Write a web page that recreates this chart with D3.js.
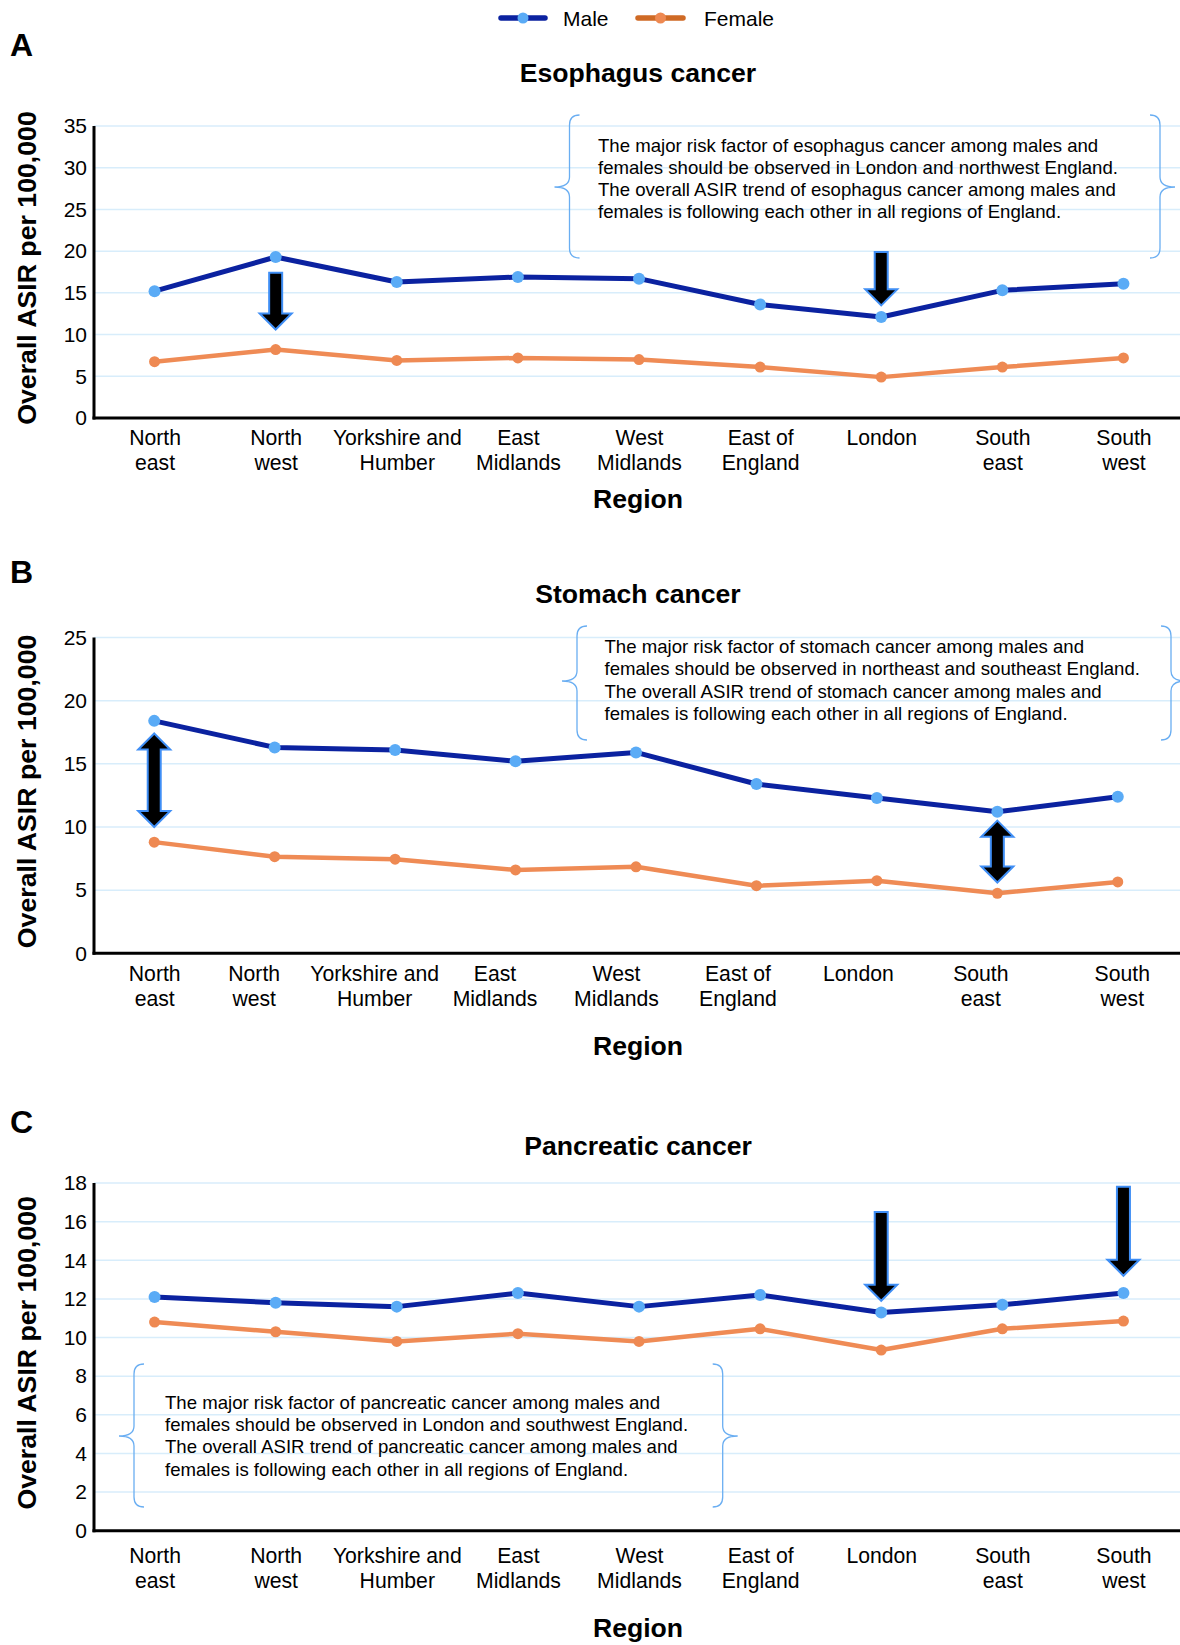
<!DOCTYPE html>
<html><head><meta charset="utf-8">
<script src="https://cdn.jsdelivr.net/npm/d3@7"></script>
<style>
body{margin:0;background:#fff}
svg{display:block}
text{font-family:"Liberation Sans", Arial, Helvetica, sans-serif;fill:#000}
</style>
</head><body>
<svg id="chart" width="1180" height="1645"></svg>
<script>
// ---------- DATA ----------
const categories = ["North east","North west","Yorkshire and Humber","East Midlands","West Midlands","East of England","London","South east","South west"];
const categoryLines = [["North","east"],["North","west"],["Yorkshire and","Humber"],["East","Midlands"],["West","Midlands"],["East of","England"],["London"],["South","east"],["South","west"]];
const seriesNames = ["Male","Female"];

const esophagusMale   = [15.2, 19.3, 16.3, 16.9, 16.7, 13.6, 12.1, 15.3, 16.1];
const esophagusFemale = [6.75, 8.2, 6.9, 7.2, 7.0, 6.1, 4.9, 6.1, 7.2];
const esophagusTicks  = [0,5,10,15,20,25,30,35];

const stomachMale   = [18.4, 16.3, 16.1, 15.2, 15.9, 13.4, 12.3, 11.2, 12.4];
const stomachFemale = [8.8, 7.65, 7.45, 6.6, 6.85, 5.35, 5.75, 4.75, 5.65];
const stomachTicks  = [0,5,10,15,20,25];

const pancreaticMale   = [12.1, 11.8, 11.6, 12.3, 11.6, 12.2, 11.3, 11.7, 12.3];
const pancreaticFemale = [10.8, 10.3, 9.8, 10.2, 9.8, 10.45, 9.35, 10.45, 10.85];
const pancreaticTicks  = [0,2,4,6,8,10,12,14,16,18];

const esophagusNote = ["The major risk factor of esophagus cancer among males and","females should be observed in London and northwest England.","The overall ASIR trend of esophagus cancer among males and","females is following each other in all regions of England."];
const stomachNote = ["The major risk factor of stomach cancer among males and","females should be observed in northeast and southeast England.","The overall ASIR trend of stomach cancer among males and","females is following each other in all regions of England."];
const pancreaticNote = ["The major risk factor of pancreatic cancer among males and","females should be observed in London and southwest England.","The overall ASIR trend of pancreatic cancer among males and","females is following each other in all regions of England."];

// annotation arrows (region, value at top, value at bottom)
const esophagusArrows  = [{region:"North west", from:17.4, to:10.6, both:false},{region:"London", from:19.9, to:13.5, both:false}];
const stomachArrows    = [{region:"North east", from:17.4, to:10.0, both:true},{region:"South east", from:10.5, to:5.6, both:true}];
const pancreaticArrows = [{region:"London", from:16.5, to:11.9, both:false},{region:"South west", from:17.8, to:13.2, both:false}];

// ---------- LAYOUT / STYLE ----------
const W = 1180;
const axisX = 94;
const colors = {maleLine:"#0b22a0", maleDot:"#5aabf6", femaleLine:"#ef8b55", femaleDot:"#ee8952",
  legendFemaleLine:"#cf6a25", grid:"#d8edfb", brace:"#6aaef2", arrowStroke:"#3f8ef5"};
const font = '"Liberation Sans", Arial, Helvetica, sans-serif';

const panels = [
  {letter:"A", title:"Esophagus cancer", male:esophagusMale, female:esophagusFemale, ticks:esophagusTicks,
   top:126, bottom:418, xEnd:1184, letterY:55.5, titleY:82, regionY:508, labelY:27,
   labelDx:[0,0,0,0,0,0,0,0,0], note:esophagusNote, arrows:esophagusArrows,
   brace:{left:569.5, right:1160, top:115, bottom:258, mid:187, textX:598, textY:151.5, gap:22.3}},
  {letter:"B", title:"Stomach cancer", male:stomachMale, female:stomachFemale, ticks:stomachTicks,
   top:637.5, bottom:953.3, xEnd:1178, letterY:583, titleY:603, regionY:1055, labelY:27.4,
   labelDx:[0,-21,-21,-21,-20,-19,-19,-17,4], note:stomachNote, arrows:stomachArrows,
   brace:{left:577, right:1171, top:626, bottom:740, mid:681, textX:604.5, textY:653, gap:22.4}},
  {letter:"C", title:"Pancreatic cancer", male:pancreaticMale, female:pancreaticFemale, ticks:pancreaticTicks,
   top:1183, bottom:1530.7, xEnd:1184, letterY:1133, titleY:1155, regionY:1637, labelY:32,
   labelDx:[0,0,0,0,0,0,0,0,0], note:pancreaticNote, arrows:pancreaticArrows,
   brace:{left:134, right:722.7, top:1364, bottom:1507, mid:1436, textX:165, textY:1408.5, gap:22.4}}
];

const svg = d3.select("#chart");

// ---------- LEGEND ----------
const legend = svg.append("g");
const legendItems = [
  {name:seriesNames[0], x1:501, x2:545, line:colors.maleLine, dot:colors.maleDot, tx:563},
  {name:seriesNames[1], x1:638, x2:683, line:colors.legendFemaleLine, dot:colors.femaleDot, tx:704}
];
legendItems.forEach(d => {
  legend.append("line").attr("x1",d.x1).attr("x2",d.x2).attr("y1",18).attr("y2",18)
    .attr("stroke",d.line).attr("stroke-width",5.5).attr("stroke-linecap","round");
  legend.append("circle").attr("cx",(d.x1+d.x2)/2).attr("cy",18).attr("r",5.5).attr("fill",d.dot);
  legend.append("text").attr("x",d.tx).attr("y",25.5).attr("font-size",21).text(d.name);
});

function bracePath(x, top, bottom, mid, dir){
  // dir = -1 for "{", +1 for "}"
  const c = 10, d = 15;
  return `M${x - dir*c},${top} Q${x},${top} ${x},${top+c} L${x},${mid-c} Q${x},${mid} ${x+dir*d},${mid} ` +
         `Q${x},${mid} ${x},${mid+c} L${x},${bottom-c} Q${x},${bottom} ${x - dir*c},${bottom}`;
}

function arrowPath(x, y1, y2, both){
  const sw = 6.5, hw = 16, hl = 16;
  if (both) {
    return `M${x},${y1} L${x+hw},${y1+hl} L${x+sw},${y1+hl} L${x+sw},${y2-hl} L${x+hw},${y2-hl} L${x},${y2} ` +
           `L${x-hw},${y2-hl} L${x-sw},${y2-hl} L${x-sw},${y1+hl} L${x-hw},${y1+hl} Z`;
  }
  return `M${x-sw},${y1} L${x+sw},${y1} L${x+sw},${y2-hl} L${x+hw},${y2-hl} L${x},${y2} L${x-hw},${y2-hl} L${x-sw},${y2-hl} Z`;
}

// ---------- PANELS ----------
panels.forEach(p => {
  const g = svg.append("g");
  const x = d3.scalePoint().domain(categories).range([axisX, p.xEnd]).padding(0.5);
  const y = d3.scaleLinear().domain([0, d3.max(p.ticks)]).range([p.bottom, p.top]);

  // letter & title
  g.append("text").attr("x",10).attr("y",p.letterY).attr("font-size",32).attr("font-weight","bold").text(p.letter);
  g.append("text").attr("x",638).attr("y",p.titleY).attr("text-anchor","middle")
    .attr("font-size",26.6).attr("font-weight","bold").text(p.title);

  // gridlines
  g.append("g").selectAll("line").data(p.ticks.filter(t => t > 0)).join("line")
    .attr("x1",axisX).attr("x2",W).attr("y1",d => y(d)).attr("y2",d => y(d))
    .attr("stroke",colors.grid).attr("stroke-width",1.5);

  // brace note
  const b = p.brace;
  g.append("path").attr("d",bracePath(b.left,b.top,b.bottom,b.mid,-1)).attr("fill","none")
    .attr("stroke",colors.brace).attr("stroke-width",1.3);
  g.append("path").attr("d",bracePath(b.right,b.top,b.bottom,b.mid,1)).attr("fill","none")
    .attr("stroke",colors.brace).attr("stroke-width",1.3);
  g.append("g").selectAll("text").data(p.note).join("text")
    .attr("x",b.textX).attr("y",(d,i) => b.textY + i*b.gap).attr("font-size",18.6).text(d => d);

  // y axis ticks
  const yAxis = d3.axisLeft(y).tickValues(p.ticks).tickSize(0).tickPadding(7).tickFormat(d3.format("d"));
  const ya = g.append("g").attr("transform",`translate(${axisX},0)`).call(yAxis);
  ya.select(".domain").remove();
  ya.selectAll("text").attr("font-size",21).attr("font-family",font).attr("fill","#000");

  // x axis ticks (multi-line)
  const xAxis = d3.axisBottom(x).tickSize(0).tickFormat("");
  const xa = g.append("g").attr("transform",`translate(0,${p.bottom})`).call(xAxis);
  xa.select(".domain").remove();
  xa.selectAll(".tick text").each(function(d){
    const i = categories.indexOf(d);
    const t = d3.select(this).attr("y",p.labelY).attr("dy",null).attr("x",p.labelDx[i])
      .attr("font-size",21.2).attr("font-family",font).attr("fill","#000").attr("text-anchor","middle");
    categoryLines[i].forEach((line,k) => {
      t.append("tspan").attr("x",p.labelDx[i]).attr("dy",k === 0 ? 0 : 25).text(line);
    });
  });

  // axis titles
  g.append("text").attr("x",638).attr("y",p.regionY).attr("text-anchor","middle")
    .attr("font-size",26.6).attr("font-weight","bold").text("Region");
  g.append("text").attr("transform",`translate(35.5,${(p.top+p.bottom)/2 - 4}) rotate(-90)`)
    .attr("text-anchor","middle").attr("font-size",26.7).attr("font-weight","bold").text("Overall ASIR per 100,000");

  // series
  const line = d3.line().x((d,i) => x(categories[i])).y(d => y(d));
  g.append("path").datum(p.female).attr("d",line).attr("fill","none")
    .attr("stroke",colors.femaleLine).attr("stroke-width",4.5).attr("stroke-linejoin","round");
  g.append("path").datum(p.male).attr("d",line).attr("fill","none")
    .attr("stroke",colors.maleLine).attr("stroke-width",5).attr("stroke-linejoin","round");
  g.append("g").selectAll("circle").data(p.female).join("circle")
    .attr("cx",(d,i) => x(categories[i])).attr("cy",d => y(d)).attr("r",5.5).attr("fill",colors.femaleDot);
  g.append("g").selectAll("circle").data(p.male).join("circle")
    .attr("cx",(d,i) => x(categories[i])).attr("cy",d => y(d)).attr("r",6).attr("fill",colors.maleDot);

  // arrows
  g.append("g").selectAll("path").data(p.arrows).join("path")
    .attr("d",d => arrowPath(x(d.region), y(d.from), y(d.to), d.both))
    .attr("fill","#000").attr("stroke",colors.arrowStroke).attr("stroke-width",2).attr("stroke-linejoin","miter");

  // axis lines
  g.append("line").attr("x1",axisX).attr("x2",axisX).attr("y1",p.top).attr("y2",p.bottom+1.5)
    .attr("stroke","#000").attr("stroke-width",3);
  g.append("line").attr("x1",axisX-1.5).attr("x2",W).attr("y1",p.bottom).attr("y2",p.bottom)
    .attr("stroke","#000").attr("stroke-width",3);
});
</script>
</body></html>
